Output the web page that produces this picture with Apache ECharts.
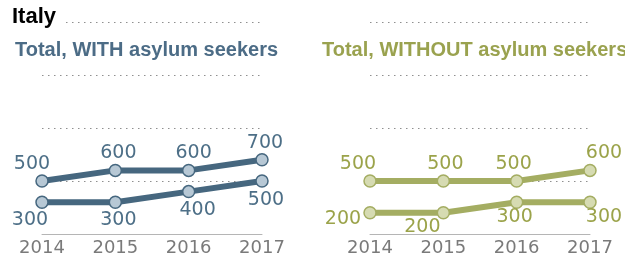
<!DOCTYPE html>
<html>
<head>
<meta charset="utf-8">
<script src="https://cdn.jsdelivr.net/npm/echarts@6/dist/echarts.min.js"></script>
<style>
  html, body { margin: 0; padding: 0; background: #fff; }
  #chart { width: 625px; height: 257px; }
</style>
</head>
<body>
<div id="chart"></div>
<script>
const years = ['2014', '2015', '2016', '2017']

// Total, WITH asylum seekers
const withUpper = [500, 600, 600, 700]
const withLower = [300, 300, 400, 500]
// Total, WITHOUT asylum seekers
const withoutUpper = [500, 500, 500, 600]
const withoutLower = [200, 200, 300, 300]

// label nudges (px) so numbers sit like the original
const offWithUpper = [[-10, -17], [3, -17], [5, -17], [3, -17]]
const offWithLower = [[-12, 18], [3, 18], [9, 18], [4, 19]]
const offWithoutUpper = [[-12, -17], [2, -17], [-3, -17], [14, -17]]
const offWithoutLower = [[-27, 6], [-21, 14], [-2, 15], [14, 15]]

const blue = '#46677f'
const blueFill = '#b7c8d5'
const olive = '#a4ad62'
const oliveFill = '#d6dbb2'

const chart = echarts.init(document.getElementById('chart'), null, { renderer: 'canvas' })

function withLabels(values, offsets) {
  return values.map((v, i) => ({
    value: v,
    label: { offset: offsets[i] }
  }))
}

function lineSeries(idx, values, offsets, color, fill, labelColor) {
  return {
    type: 'line',
    xAxisIndex: idx,
    yAxisIndex: idx,
    data: withLabels(values, offsets),
    symbol: 'circle',
    symbolSize: 12,
    lineStyle: { color, width: 6 },
    itemStyle: { color: fill, borderColor: color, borderWidth: 1.5 },
    label: {
      show: true,
      position: 'inside',
      color: labelColor,
      fontFamily: 'DejaVu Sans',
      fontSize: 19
    },
    emphasis: { disabled: true },
    silent: true,
    z: 3
  }
}

const dotted = { color: '#8f8f8f', width: 1, type: [1.5, 4.5] }

function xAxis(idx) {
  return {
    type: 'category',
    gridIndex: idx,
    data: years,
    boundaryGap: false,
    axisLine: { lineStyle: { color: '#b5b5b5', width: 1 } },
    axisTick: { show: false },
    axisLabel: { color: '#7a7a7a', fontFamily: 'DejaVu Sans', fontSize: 18, margin: 5 }
  }
}

function yAxis(idx) {
  return {
    type: 'value',
    gridIndex: idx,
    min: 0,
    max: 2000,
    interval: 500,
    axisLabel: { show: false },
    axisLine: { show: false },
    axisTick: { show: false },
    splitLine: { show: true, lineStyle: dotted }
  }
}

chart.setOption({
  backgroundColor: '#fff',
  animation: false,
  title: [
    {
      text: 'Italy',
      left: 10,
      top: 4,
      padding: [2, 8, 2, 2],
      backgroundColor: '#fff',
      textStyle: { fontFamily: 'Liberation Sans', fontWeight: 'bold', fontSize: 22, color: '#000' }
    },
    {
      text: 'Total, WITH asylum seekers',
      left: 13,
      top: 38,
      padding: 2,
      textStyle: { fontFamily: 'Liberation Sans', fontWeight: 'bold', fontSize: 20, color: '#4c6c86' }
    },
    {
      text: 'Total, WITHOUT asylum seekers',
      left: 320,
      top: 38,
      padding: 2,
      textStyle: { fontFamily: 'Liberation Sans', fontWeight: 'bold', fontSize: 20, color: '#9aa24f' }
    }
  ],
  grid: [
    { left: 42, right: 363, top: 22, bottom: 23 },
    { left: 370, right: 35, top: 22, bottom: 23 }
  ],
  xAxis: [xAxis(0), xAxis(1)],
  yAxis: [yAxis(0), yAxis(1)],
  series: [
    lineSeries(0, withUpper, offWithUpper, blue, blueFill, '#4d6f87'),
    lineSeries(0, withLower, offWithLower, blue, blueFill, '#4d6f87'),
    lineSeries(1, withoutUpper, offWithoutUpper, olive, oliveFill, '#9ba34a'),
    lineSeries(1, withoutLower, offWithoutLower, olive, oliveFill, '#9ba34a')
  ]
})
</script>
</body>
</html>
